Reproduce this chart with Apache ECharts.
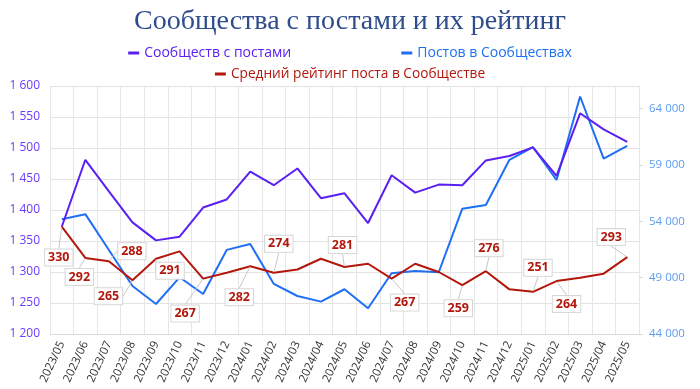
<!DOCTYPE html>
<html>
<head>
<meta charset="utf-8">
<script src="https://cdn.jsdelivr.net/npm/echarts@6/dist/echarts.min.js"></script>
<style>html,body{margin:0;padding:0;background:#fff}#c{width:700px;height:389px}</style>
</head>
<body>
<div id="c"></div>
<script>
const categories = ['2023/05','2023/06','2023/07','2023/08','2023/09','2023/10','2023/11','2023/12','2024/01','2024/02','2024/03','2024/04','2024/05','2024/06','2024/07','2024/08','2024/09','2024/10','2024/11','2024/12','2025/01','2025/02','2025/03','2025/04','2025/05'];
const communities = [1373,1481,1430,1380,1351,1357,1404,1417,1462,1440,1467,1419,1427,1379,1456,1428,1441,1440,1480,1487,1501,1455,1556,1530,1510];
const posts = [54180,54630,51450,48260,46660,49030,47550,51460,51990,48440,47370,46870,47970,46280,49390,49590,49480,55120,55450,59450,60570,57670,65070,59560,60690];
const rating = [330,292,288,265,291,300,267,274,282,274,278,291,281,285,267,285,275,259,276,254,251,264,268,273,293];
const labeledIdx = [0,1,2,3,4,6,8,9,12,14,17,18,20,21,24];
const leftTicks = {min:1200, max:1600, interval:50};
const rightTicks = {min:44000, max:66000, interval:5000};

// label placement offsets (layout only)
const labelOffsets = {0:[-3,31],1:[-6,19],2:[23,-10],3:[-24,16],4:[14,12],6:[-18,35],8:[-11,31],9:[5,-29],12:[-2,-22],14:[13,24],17:[-4,23],18:[3,-23],20:[5,-24],21:[10,23],24:[-16,-20]};

const fmt = v => String(v).replace(/\B(?=(\d{3})+(?!\d))/g, '\u00a0');
const C_PURPLE = '#5a1ff2', C_BLUE = '#1f6ff5', C_RED = '#b3170c';
const FONT = '"Open Sans", "Noto Sans", sans-serif';

const ratingData = rating.map((v,i)=> labeledIdx.includes(i)
  ? {value:v, label:{show:true}, labelLine:{show:true}}
  : {value:v});

const chart = echarts.init(document.getElementById('c'), null, {renderer:'canvas'});
chart.setOption({
  animation:false,
  backgroundColor:'#fff',
  title:{text:'Сообщества с постами и их рейтинг', left:'center', top:3,
    textStyle:{fontFamily:'"Liberation Serif", serif', fontWeight:'normal', fontSize:28, color:'#2f4c8c'}},
  legend:[
    {data:['Сообществ с постами','Постов в Сообществах'], top:41, left:'center', itemGap:110,
      icon:'rect', itemWidth:11, itemHeight:3, textStyle:{fontFamily:FONT, fontSize:14, color:'inherit'}},
    {data:['Средний рейтинг поста в Сообществе'], top:62, left:'center',
      icon:'rect', itemWidth:11, itemHeight:3, textStyle:{fontFamily:FONT, fontSize:13.7, color:'inherit'}}
  ],
  grid:{left:50, right:61, top:86, bottom:55, containLabel:false},
  xAxis:{type:'category', data:categories, boundaryGap:true,
    axisLine:{lineStyle:{color:'#d9d9d9'}}, axisTick:{show:false},
    splitLine:{show:true, lineStyle:{color:'#e6e6e6'}},
    axisLabel:{rotate:65, color:'#333', fontFamily:FONT, fontSize:11.5, margin:8, interval:0}},
  yAxis:[
    {type:'value', min:leftTicks.min, max:leftTicks.max, interval:leftTicks.interval, position:'left',
      axisLine:{show:false}, axisTick:{show:false},
      splitLine:{lineStyle:{color:'#e3e3e3'}},
      axisLabel:{color:'#6a3cff', fontFamily:FONT, fontSize:12, formatter:fmt, margin:10}},
    {type:'value', min:rightTicks.min, max:rightTicks.max, interval:rightTicks.interval, position:'right',
      axisLine:{show:false}, axisTick:{show:true, length:4, lineStyle:{color:'#d9d9d9'}},
      splitLine:{show:false},
      axisLabel:{color:'#5b9cf5', fontFamily:FONT, fontSize:11.5, formatter:fmt, margin:10, showMaxLabel:false}},
    {type:'value', min:200, max:500, show:false, splitLine:{show:false}}
  ],
  series:[
    {name:'Постов в Сообществах', type:'line', yAxisIndex:1, data:posts, z:2,
      symbol:'none', lineStyle:{color:C_BLUE, width:2}, itemStyle:{color:C_BLUE}},
    {name:'Сообществ с постами', type:'line', yAxisIndex:0, data:communities, z:3,
      symbol:'none', lineStyle:{color:C_PURPLE, width:2}, itemStyle:{color:C_PURPLE}},
    {name:'Средний рейтинг поста в Сообществе', type:'line', yAxisIndex:2, data:ratingData, z:4,
      symbol:'circle', symbolSize:1, showSymbol:true,
      lineStyle:{color:C_RED, width:2}, itemStyle:{color:C_RED},
      label:{show:false, position:'inside', color:C_RED, fontFamily:FONT, fontWeight:'bold', fontSize:12.5,
        backgroundColor:'#fff', borderColor:'#d6d6d6', borderWidth:1, padding:[2,3,1,3]},
      labelLine:{show:false, lineStyle:{color:'#c8c8c8', width:1}},
      labelLayout:function(p){ const o = labelOffsets[p.dataIndex]; return o ? {dx:o[0], dy:o[1]} : {}; }}
  ]
});
</script>
</body>
</html>
